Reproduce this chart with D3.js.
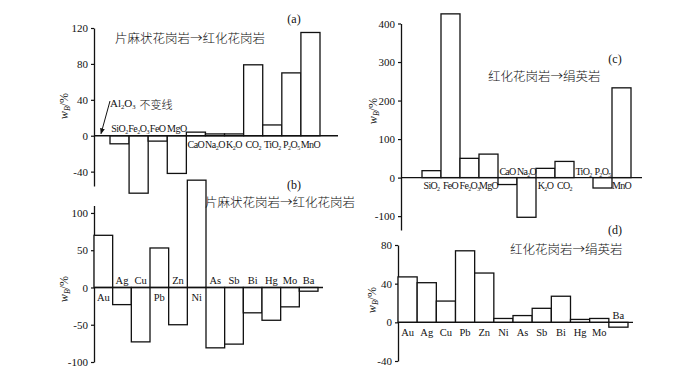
<!DOCTYPE html>
<html>
<head>
<meta charset="utf-8">
<script src="https://cdn.jsdelivr.net/npm/d3@7"></script>
<style>
  body { margin: 0; background: #fff; }
  svg text { font-family: "Liberation Serif", "DejaVu Serif", serif; fill: #111; }
  .cjk { font-family: "Noto Sans CJK SC", sans-serif; font-weight: 300; }
</style>
</head>
<body>
<svg width="700" height="374"></svg>
<script>
// oxides, panels (a) and (c)
var oxidesA = ["SiO2", "Fe2O3", "FeO", "MgO", "CaO", "Na2O", "K2O", "CO2", "TiO2", "P2O5", "MnO"];
var valuesA = [-9, -64, -6, -42, 4, 2, 2, 79, 12, 70, 115];
var oxidesC = ["SiO2", "FeO", "Fe2O3", "MgO", "CaO", "Na2O", "K2O", "CO2", "TiO2", "P2O5", "MnO"];
var valuesC = [18, 425, 50, 61, -18, -103, 24, 42, 0, -27, 233];
// trace elements, panels (b) and (d)
var elements = ["Au", "Ag", "Cu", "Pb", "Zn", "Ni", "As", "Sb", "Bi", "Hg", "Mo", "Ba"];
var valuesB = [70, -23, -73, 53, -50, 144, -81, -76, -34, -44, -26, -5];
var valuesD = [47, 41, 22, 74, 51, 4, 7, 14.5, 27, 3, 4, -5];
// tick labels
var ticksA = [-40, 0, 40, 80, 120];
var ticksB = [-100, -50, 0, 50, 100];
var ticksC = [-100, 0, 100, 200, 300, 400];
var ticksD = [-40, 0, 40, 80];
var titleAB = "片麻状花岗岩→红化花岗岩";
var titleCD = "红化花岗岩→绢英岩";

var svg = d3.select("svg");

// label with digits as subscripts
function subText(sel, str, size) {
  var parts = str.match(/[A-Za-z]+|\d+/g);
  var down = false;
  parts.forEach(function(p) {
    var isNum = /\d/.test(p);
    var t = sel.append("tspan").text(p);
    if (isNum && !down) { t.attr("dy", 2).style("font-size", (size * 0.6) + "px"); down = true; }
    else if (!isNum && down) { t.attr("dy", -2); down = false; }
  });
  if (down) sel.append("tspan").attr("dy", -2).text("");
}

function panel(p) {
  var g = svg.append("g");
  var y = d3.scaleLinear().domain(p.yDomain).range(p.yRange);
  var x = d3.scaleBand().domain(p.cats).range(p.xRange).padding(0);

  // y axis
  var ax = g.append("g")
    .attr("transform", "translate(" + p.axisX + ",0)")
    .call(d3.axisLeft(y).tickValues(p.ticks).tickSize(3).tickSizeOuter(0).tickPadding(3));
  ax.select(".domain").attr("stroke", "#111").attr("stroke-width", 1.3);
  ax.selectAll(".tick line").attr("stroke", "#111").attr("stroke-width", 1.2);
  ax.selectAll(".tick text")
    .style("font-size", "11px")
    .style("font-family", "'Liberation Serif', serif")
    .attr("fill", "#111")
    .text(function(d) { return d < 0 ? "-" + Math.abs(d) : d; });

  // bars
  g.selectAll("rect.bar")
    .data(p.values)
    .enter().append("rect")
    .attr("class", "bar")
    .attr("x", function(d, i) { return x(p.cats[i]); })
    .attr("width", x.bandwidth())
    .attr("y", function(d) { return y(Math.max(0, d)); })
    .attr("height", function(d) { return Math.abs(y(d) - y(0)); })
    .attr("fill", "#fff")
    .attr("stroke", "#111")
    .attr("stroke-width", 1.3);

  // zero line
  g.append("line")
    .attr("x1", p.axisX).attr("x2", p.lineEnd)
    .attr("y1", y(0)).attr("y2", y(0))
    .attr("stroke", "#111").attr("stroke-width", 1.3);

  // category labels, on the side away from the bar
  g.selectAll("text.cat")
    .data(p.cats)
    .enter().append("text")
    .attr("class", "cat")
    .attr("text-anchor", "middle")
    .style("font-size", p.fs + "px")
    .style("letter-spacing", p.ls + "px")
    .attr("x", function(d) { return x(d) + x.bandwidth() / 2; })
    .attr("y", function(d, i) { return p.values[i] > 0 ? y(0) + p.below : y(0) - p.above; })
    .each(function(d) { subText(d3.select(this), d, p.fs); });

  // y label
  var yl = g.append("text")
    .attr("transform", "translate(" + p.ylab[0] + "," + p.ylab[1] + ") rotate(-90)")
    .attr("text-anchor", "middle")
    .style("font-size", "12px");
  yl.append("tspan").style("font-style", "italic").text("w");
  yl.append("tspan").attr("dy", 2).style("font-size", "8px").style("font-style", "italic").text("B");
  yl.append("tspan").attr("dy", -2).text("/%");

  // panel letter and title
  g.append("text").attr("x", p.letter[0]).attr("y", p.letter[1])
    .attr("text-anchor", "middle").style("font-size", "12px").text(p.name);
  g.append("text").attr("class", "cjk").attr("x", p.title[0]).attr("y", p.title[1])
    .style("font-size", "12.5px").text(p.titleText);
  return { x: x, y: y, g: g };
}

var a = panel({
  cats: oxidesA, values: valuesA, ticks: ticksA,
  yDomain: [-56, 120], yRange: [186, 28], xRange: [110, 320],
  axisX: 94, lineEnd: 338, below: 12, above: 4, fs: 10, ls: -0.5,
  ylab: [68, 106], letter: [294, 23], name: "(a)",
  title: [115, 43], titleText: titleAB
});

panel({
  cats: elements, values: valuesB, ticks: ticksB,
  yDomain: [-100, 110], yRange: [362, 205.5], xRange: [94, 318],
  axisX: 94, lineEnd: 323, below: 14, above: 3, fs: 10.5, ls: 0,
  ylab: [68, 289], letter: [294, 189], name: "(b)",
  title: [205, 207], titleText: titleAB
});

panel({
  cats: oxidesC, values: valuesC, ticks: ticksC,
  yDomain: [-136, 400], yRange: [230, 23.5], xRange: [422, 631],
  axisX: 401, lineEnd: 642, below: 11, above: 3, fs: 10, ls: -0.7,
  ylab: [377, 111], letter: [615, 63], name: "(c)",
  title: [488, 81], titleText: titleCD
});

panel({
  cats: elements, values: valuesD, ticks: ticksD,
  yDomain: [-40, 80], yRange: [361, 245], xRange: [398, 628],
  axisX: 398, lineEnd: 633, below: 14, above: 3, fs: 10.5, ls: 0,
  ylab: [376, 300], letter: [615, 234], name: "(d)",
  title: [510, 254], titleText: titleCD
});

// Al2O3 reference note in panel (a)
svg.append("defs").append("marker")
  .attr("id", "head").attr("viewBox", "0 0 10 10").attr("refX", 9).attr("refY", 5)
  .attr("markerWidth", 6).attr("markerHeight", 6).attr("orient", "auto")
  .append("path").attr("d", "M0,1L10,5L0,9z").attr("fill", "#111");
a.g.append("line")
  .attr("x1", 110).attr("y1", 101).attr("x2", 101).attr("y2", a.y(0) - 2)
  .attr("stroke", "#111").attr("stroke-width", 1).attr("marker-end", "url(#head)");
var note = a.g.append("text").attr("x", 110).attr("y", 107).style("font-size", "11px");
subText(note, "Al2O3", 11);
note.append("tspan").attr("class", "cjk").attr("dx", 4).style("font-family", "'Noto Sans CJK SC', sans-serif").text("不变线");
</script>
</body>
</html>
